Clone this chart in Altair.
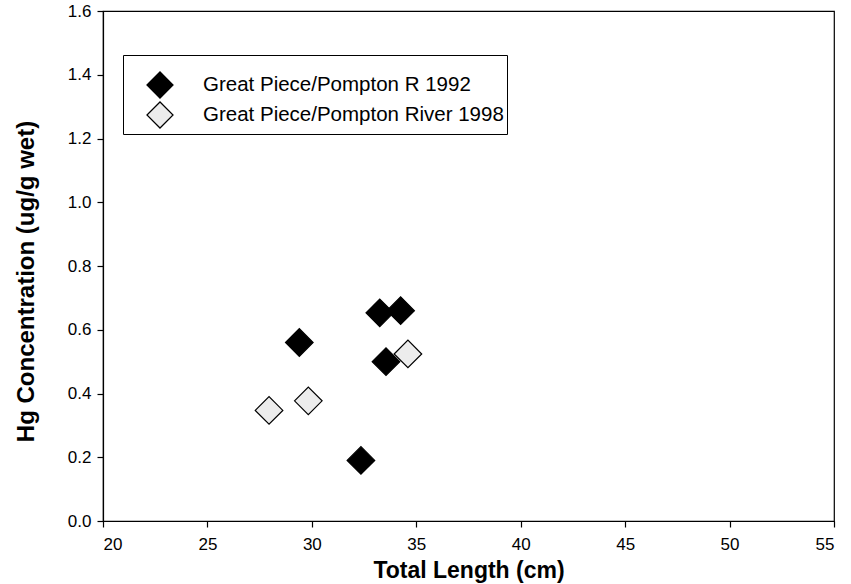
import altair as alt
import pandas as pd

# Mercury in fish tissue vs. total length, Great Piece / Pompton River
series_1992 = "Great Piece/Pompton R 1992"
series_1998 = "Great Piece/Pompton River 1998"

length_1992 = [29.4, 33.25, 34.25, 33.55, 32.35]
hg_1992 = [0.56, 0.653, 0.66, 0.50, 0.19]

length_1998 = [27.95, 29.83, 34.6]
hg_1998 = [0.347, 0.377, 0.524]

df = pd.DataFrame({
    "length": length_1992 + length_1998,
    "hg": hg_1992 + hg_1998,
    "series": [series_1992] * len(length_1992) + [series_1998] * len(length_1998),
})

FONT = "Liberation Sans"

points = alt.Chart(df).mark_point(
    shape="diamond", filled=True, size=760, stroke="black", strokeWidth=1.2, opacity=1
).encode(
    x=alt.X(
        "length:Q",
        title="Total Length (cm)",
        scale=alt.Scale(domain=[20, 55], nice=False, zero=False),
        axis=alt.Axis(
            values=[20, 25, 30, 35, 40, 45, 50, 55],
            format="d",
            grid=False,
            tickSize=6,
            labelPadding=9,
            titleY=56,
            titleBaseline="alphabetic",
        ),
    ),
    y=alt.Y(
        "hg:Q",
        title="Hg Concentration (ug/g wet)",
        scale=alt.Scale(domain=[0, 1.6], nice=False),
        axis=alt.Axis(
            values=[0, 0.2, 0.4, 0.6, 0.8, 1.0, 1.2, 1.4, 1.6],
            format=".1f",
            grid=False,
            tickSize=6,
            labelPadding=6,
            titleX=-77,
            titleY=270,
            titleAngle=-90,
            titleAlign="center",
            titleBaseline="middle",
            titleFontSize=24,
        ),
    ),
    fill=alt.Fill(
        "series:N",
        scale=alt.Scale(domain=[series_1992, series_1998], range=["black", "#ececec"]),
        legend=alt.Legend(
            title=" ",
            titleFontSize=12,
            titlePadding=1,
            orient="none",
            legendX=20,
            legendY=44,
            symbolType="diamond",
            symbolSize=680,
            symbolStrokeColor="black",
            symbolStrokeWidth=1.2,
            symbolOffset=20,
            labelFontSize=20.5,
            labelOffset=29,
            labelFont=FONT,
            labelColor="black",
            rowPadding=-3,
            padding=3,
            strokeColor="black",
            fillColor="white",
            labelLimit=400,
        ),
    ),
)

chart = points.properties(
    width=731,
    height=510,
    padding={"left": 103, "top": 11, "right": 17, "bottom": 63},
    autosize=alt.AutoSizeParams(type="none"),
    background="white",
).configure_view(
    stroke="black", strokeWidth=1.2
).configure_axis(
    domainColor="black",
    domainWidth=1.2,
    tickColor="black",
    tickWidth=1.2,
    labelFont=FONT,
    labelFontSize=17,
    labelColor="black",
    titleFont=FONT,
    titleFontSize=23,
    titleFontWeight="bold",
    titleColor="black",
)

chart.save("out.html", embed_options={"renderer": "svg", "actions": False})
